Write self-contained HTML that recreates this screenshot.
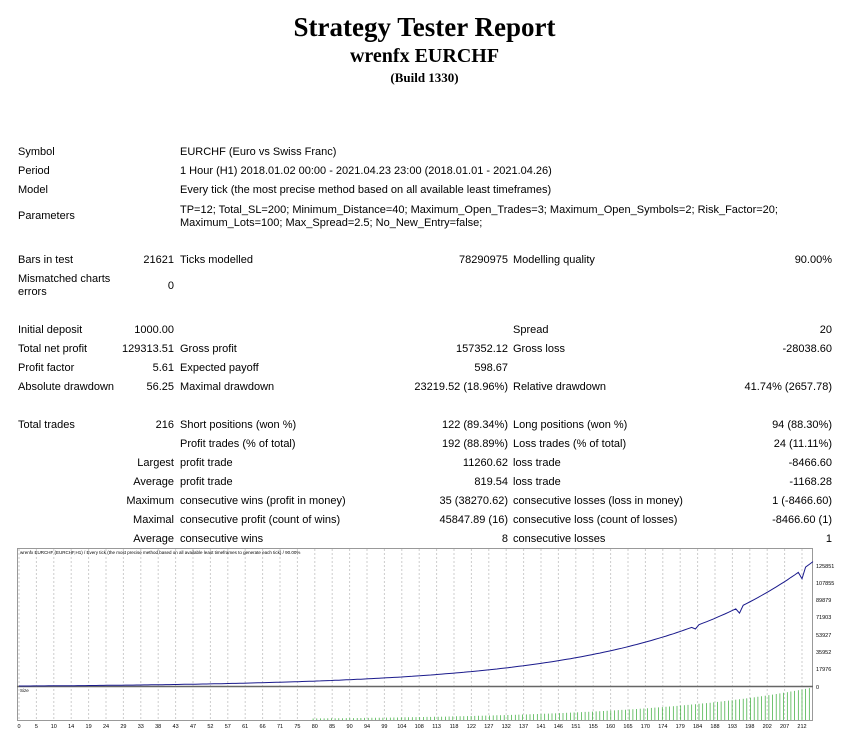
<!DOCTYPE html>
<html><head><meta charset="utf-8"><style>
body{margin:0;background:#fff;width:849px;height:744px;position:relative;overflow:hidden;font-family:"Liberation Sans",sans-serif;font-size:11px;color:#000}
.t{position:absolute;white-space:nowrap;line-height:13px}
.r{text-align:right}
h1,h2,h3{position:absolute;left:0;width:849px;text-align:center;margin:0;font-family:"Liberation Serif",serif;font-weight:bold}
</style></head><body>
<h1 style="top:12px;font-size:27px">Strategy Tester Report</h1>
<h2 style="top:45px;font-size:20px">wrenfx EURCHF</h2>
<h3 style="top:70px;font-size:13px">(Build 1330)</h3>
<div id="rows"></div>
<svg id="ch" style="position:absolute;left:0;top:0" width="849" height="744"></svg>
<script>
var R=document.getElementById('rows'),h='';
function T(x,y,s,r){if(r)h+='<div class="t r" style="right:'+(849-x)+'px;top:'+(y-5)+'px">'+s+'</div>';else h+='<div class="t" style="left:'+x+'px;top:'+(y-5)+'px">'+s+'</div>';}
T(18,151,'Symbol');T(180,151,'EURCHF (Euro vs Swiss Franc)');
T(18,170,'Period');T(180,170,'1 Hour (H1) 2018.01.02 00:00 - 2021.04.23 23:00 (2018.01.01 - 2021.04.26)');
T(18,189,'Model');T(180,189,'Every tick (the most precise method based on all available least timeframes)');
T(18,215,'Parameters');T(180,209,'TP=12; Total_SL=200; Minimum_Distance=40; Maximum_Open_Trades=3; Maximum_Open_Symbols=2; Risk_Factor=20;');T(180,222,'Maximum_Lots=100; Max_Spread=2.5; No_New_Entry=false;');
var rows=[
[259,'Bars in test','21621','Ticks modelled','78290975','Modelling quality','90.00%'],
[329,'Initial deposit','1000.00','','','Spread','20'],
[348,'Total net profit','129313.51','Gross profit','157352.12','Gross loss','-28038.60'],
[367,'Profit factor','5.61','Expected payoff','598.67','',''],
[386,'Absolute drawdown','56.25','Maximal drawdown','23219.52 (18.96%)','Relative drawdown','41.74% (2657.78)'],
[424,'Total trades','216','Short positions (won %)','122 (89.34%)','Long positions (won %)','94 (88.30%)'],
[443,'','','Profit trades (% of total)','192 (88.89%)','Loss trades (% of total)','24 (11.11%)'],
[462,'','Largest','profit trade','11260.62','loss trade','-8466.60'],
[481,'','Average','profit trade','819.54','loss trade','-1168.28'],
[500,'','Maximum','consecutive wins (profit in money)','35 (38270.62)','consecutive losses (loss in money)','1 (-8466.60)'],
[519,'','Maximal','consecutive profit (count of wins)','45847.89 (16)','consecutive loss (count of losses)','-8466.60 (1)'],
[538,'','Average','consecutive wins','8','consecutive losses','1']];
rows.forEach(function(r){var y=r[0];if(r[1])T(18,y,r[1]);if(r[2])T(174,y,r[2],1);if(r[3])T(180,y,r[3]);if(r[4])T(508,y,r[4],1);if(r[5])T(513,y,r[5]);if(r[6])T(832,y,r[6],1);});
T(18,278,'Mismatched charts');T(18,291,'errors');T(174,285,'0',1);
R.innerHTML=h;
var s='';
s+='<rect x="17.5" y="548.5" width="795" height="172" fill="#fff" stroke="#999"/>';
var labs=[0,5,10,14,19,24,29,33,38,43,47,52,57,61,66,71,75,80,85,90,94,99,104,108,113,118,122,127,132,137,141,146,151,155,160,165,170,174,179,184,188,193,198,202,207,212];
labs.forEach(function(l,i){var x=19+i*17.4;s+='<line x1="'+x+'" y1="549" x2="'+x+'" y2="720" stroke="#ccc" stroke-dasharray="2,2"/>';s+='<text x="'+x+'" y="728" font-size="5.5" text-anchor="middle" font-family="Liberation Sans">'+l+'</text>';});
var yl=[[125851,566],[107855,583],[89879,600],[71903,617],[53927,635],[35952,652],[17976,669],[0,687]];
yl.forEach(function(a){s+='<text x="816" y="'+(a[1]+2)+'" font-size="5.5" font-family="Liberation Sans">'+a[0]+'</text>';});
s+='<line x1="17" y1="686.5" x2="813" y2="686.5" stroke="#666" stroke-width="1.5"/>';
s+='<text x="20" y="554" font-size="4.5" font-family="Liberation Sans">wrenfx EURCHF (EURCHF,H1) / Every tick (the most precise method based on all available least timeframes to generate each tick) / 90.00%</text>';
s+='<text x="20" y="692" font-size="4.5" font-family="Liberation Sans">Size</text>';
var p=[],N=216;
for(var i=0;i<=N;i++){var t=i/N,x=19+t*794,b=1000*Math.exp(4.87*t);var y=687-b/17976*17.3;
 if(Math.abs(x-738)<2)y+=6; if(Math.abs(x-802)<2)y+=9; if(Math.abs(x-697)<2)y+=3;
 p.push(x.toFixed(1)+','+y.toFixed(1));}
s+='<polyline points="'+p.join(' ')+'" fill="none" stroke="#1a1a8c" stroke-width="1"/>';
for(var i=0;i<N;i++){var t=i/N,x=19+t*794;var hgt=Math.min(32,0.25*Math.exp(4.87*t));if(hgt<1.5)continue;
 s+='<line x1="'+x.toFixed(1)+'" y1="720" x2="'+x.toFixed(1)+'" y2="'+(720-hgt).toFixed(1)+'" stroke="#3a3" stroke-width="0.7"/>';}
document.getElementById('ch').innerHTML=s;
</script>
</body></html>
